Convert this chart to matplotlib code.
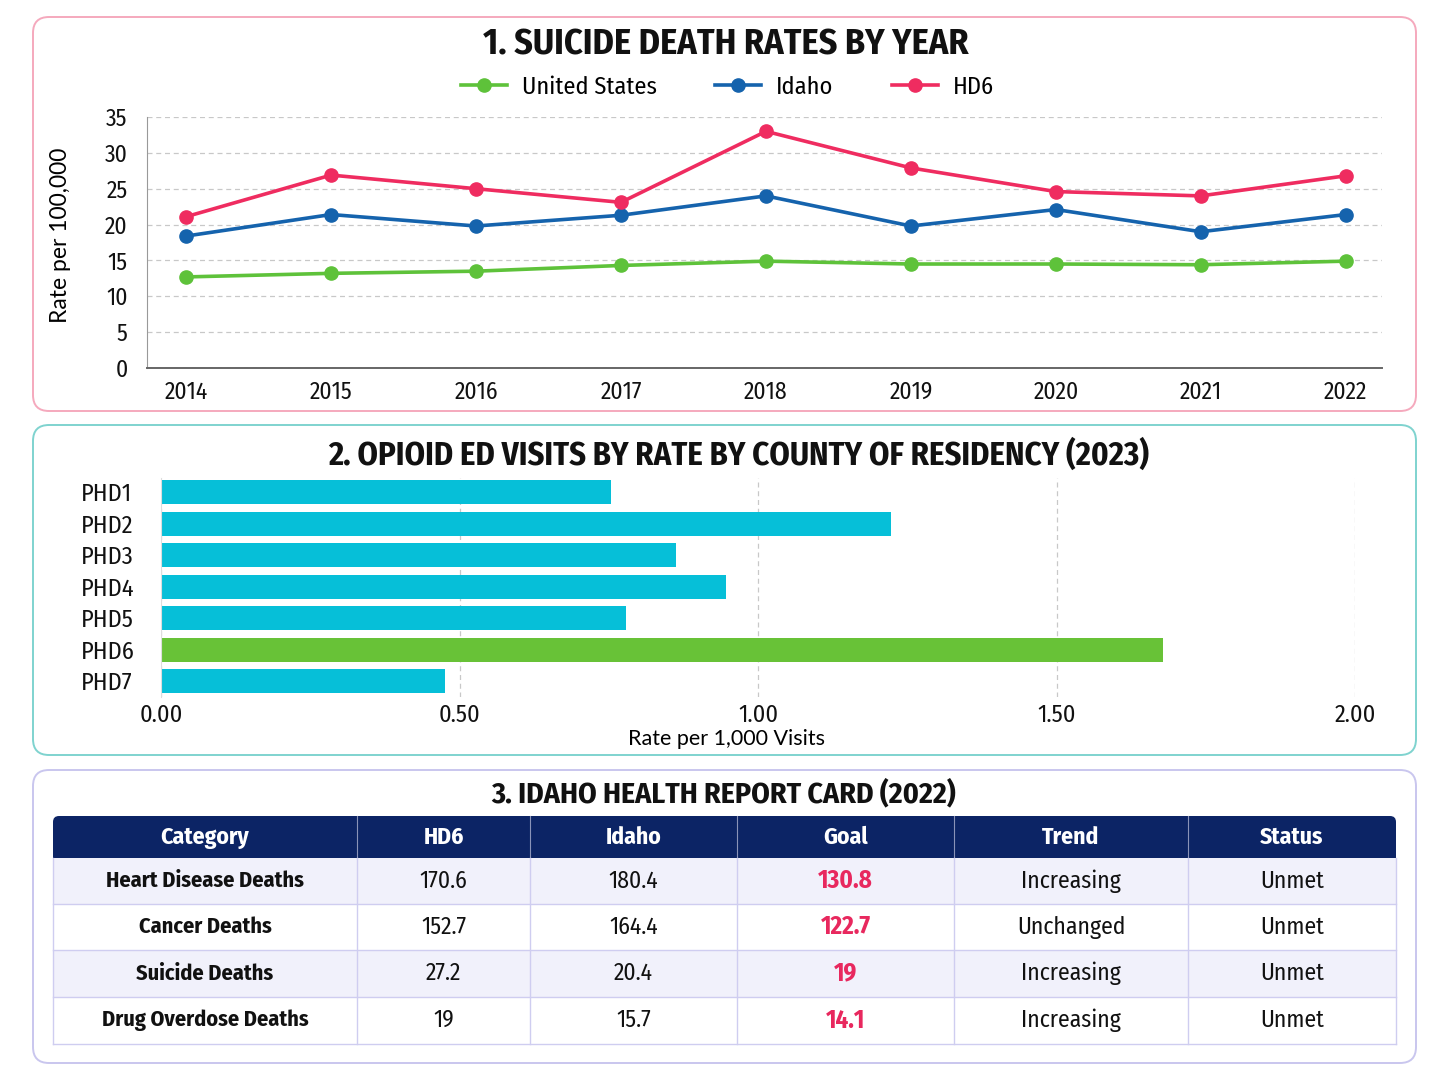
import matplotlib
matplotlib.use("Agg")
import matplotlib.pyplot as plt
from matplotlib.patches import FancyBboxPatch, Rectangle
from matplotlib import font_manager as fm
import matplotlib.transforms as mtransforms

# ---------------- data ----------------
years = ["2014", "2015", "2016", "2017", "2018", "2019", "2020", "2021", "2022"]
us_rate = [12.7, 13.2, 13.5, 14.3, 14.9, 14.5, 14.5, 14.4, 14.9]
idaho_rate = [18.4, 21.4, 19.8, 21.3, 24.0, 19.8, 22.1, 19.0, 21.4]
hd6_rate = [21.1, 26.9, 25.0, 23.1, 33.0, 27.9, 24.6, 24.0, 26.8]

districts = ["PHD1", "PHD2", "PHD3", "PHD4", "PHD5", "PHD6", "PHD7"]
opioid_rate = [0.754, 1.222, 0.863, 0.946, 0.779, 1.678, 0.476]
highlight = "PHD6"

col_headers = ["Category", "HD6", "Idaho", "Goal", "Trend", "Status"]
categories = ["Heart Disease Deaths", "Cancer Deaths", "Suicide Deaths", "Drug Overdose Deaths"]
hd6_vals = ["170.6", "152.7", "27.2", "19"]
idaho_vals = ["180.4", "164.4", "20.4", "15.7"]
goal_vals = ["130.8", "122.7", "19", "14.1"]
trend_vals = ["Increasing", "Unchanged", "Increasing", "Increasing"]
status_vals = ["Unmet", "Unmet", "Unmet", "Unmet"]

# ---------------- fonts ----------------
names = {f.name for f in fm.fontManager.ttflist}
def pick(cands, default="DejaVu Sans"):
    for c in cands:
        if c in names:
            return c
    return default
body = pick(["Lato", "Noto Sans"])
cond = pick(["Fira Sans Condensed", "Roboto Condensed", "Open Sans Condensed",
             "IBM Plex Sans Condensed", "Barlow Semi Condensed", "Oswald"], body)
semi = pick(["Fira Sans Condensed", "Roboto Condensed", "IBM Plex Sans Condensed",
             "Open Sans Condensed"], body)
plt.rcParams["font.family"] = [body, "DejaVu Sans"]
CF = [cond, "DejaVu Sans"]
SF = [semi, "DejaVu Sans"]

PINK = "#ef2c60"
BLUE = "#1563ad"
GREEN = "#5ec23a"
CYAN = "#06bfd8"
BARGREEN = "#68c237"
NAVY = "#0c2465"

W, H = 1448, 1086
fig = plt.figure(figsize=(W / 100, H / 100), dpi=100)
fig.patch.set_facecolor("white")

bg = fig.add_axes([0, 0, 1, 1])
bg.set_xlim(0, W)
bg.set_ylim(H, 0)
bg.axis("off")
bg.set_zorder(-1)

def panel(y0, y1, ec):
    p = FancyBboxPatch((33, y0), 1383, y1 - y0,
                       boxstyle="round,pad=0,rounding_size=16",
                       fc="white", ec=ec, lw=1.4)
    bg.add_patch(p)

panel(17, 411, "#f5a9bd")
panel(425, 755, "#7fd3cf")
panel(770, 1063, "#c9c6ee")

title_kw = dict(family=CF, weight="bold", ha="center", va="center", color="#111111")
bg.text(726, 45, "1. SUICIDE DEATH RATES BY YEAR", fontsize=26, **title_kw)
bg.text(739, 455, "2. OPIOID ED VISITS BY RATE BY COUNTY OF RESIDENCY (2023)", fontsize=23.5, **title_kw)
bg.text(724, 794, "3. IDAHO HEALTH REPORT CARD (2022)", fontsize=21.5, **title_kw)

# ---------------- chart 1 ----------------
ax1 = fig.add_axes([147 / W, 1 - 368 / H, 1235 / W, 251 / H])
x = list(range(len(years)))
ax1.plot(x, us_rate, color=GREEN, lw=2.6, marker="o", ms=9.5, label="United States", zorder=3)
ax1.plot(x, idaho_rate, color=BLUE, lw=2.6, marker="o", ms=9.5, label="Idaho", zorder=3)
ax1.plot(x, hd6_rate, color=PINK, lw=2.6, marker="o", ms=9.5, label="HD6", zorder=3)
ax1.set_ylim(0, 35)
ax1.set_yticks(range(0, 36, 5))
ax1.set_xlim(-0.27, 8.25)
ax1.set_xticks(x)
ax1.set_xticklabels(years)
ax1.grid(axis="y", ls=(0, (4, 3)), color="#c8c8c8", lw=0.9)
ax1.set_axisbelow(True)
for s in ["top", "right"]:
    ax1.spines[s].set_visible(False)
ax1.spines["left"].set_color("#999999")
ax1.spines["bottom"].set_color("#666666")
ax1.spines["bottom"].set_linewidth(1.4)
ax1.tick_params(axis="both", length=0, labelsize=17, colors="#111111")
ax1.tick_params(axis="x", pad=9)
ax1.tick_params(axis="y", pad=14)
for lab in ax1.get_xticklabels() + ax1.get_yticklabels():
    lab.set_family(SF)
ax1.set_ylabel("Rate per 100,000", fontsize=16.5)
ax1.yaxis.set_label_coords(-76 / 1235, 0.53)
leg = ax1.legend(loc="center", bbox_to_anchor=(0.47, 1.12), ncol=3, frameon=False,
                 handlelength=1.9, columnspacing=2.4, handletextpad=0.6,
                 prop={"family": SF, "size": 17.5})

# ---------------- chart 2 ----------------
ax2 = fig.add_axes([161 / W, 1 - 697 / H, 1194 / W, 219 / H])
colors = [BARGREEN if d == highlight else CYAN for d in districts]
ax2.barh(range(len(districts)), opioid_rate, height=0.76, color=colors, zorder=2)
ax2.set_yticks(range(len(districts)))
ax2.set_yticklabels(districts)
ax2.set_ylim(6.5, -0.45)
ax2.set_xlim(0, 2.0)
ax2.set_xticks([0, 0.5, 1.0, 1.5, 2.0])
ax2.set_xticklabels(["0.00", "0.50", "1.00", "1.50", "2.00"])
ax2.grid(axis="x", ls=(0, (4, 3)), color="#c8c8c8", lw=0.9)
ax2.set_axisbelow(True)
for s in ["top", "right", "bottom"]:
    ax2.spines[s].set_visible(False)
ax2.spines["left"].set_color("#dddddd")
ax2.tick_params(axis="both", length=0, labelsize=17.5, colors="#111111")
ax2.tick_params(axis="y", pad=0)
ax2.tick_params(axis="x", pad=5)
offset = mtransforms.ScaledTranslation(-80 / 100, 0, fig.dpi_scale_trans)
for lab in ax2.get_yticklabels():
    lab.set_horizontalalignment("left")
    lab.set_transform(lab.get_transform() + offset)
for lab in ax2.get_xticklabels() + ax2.get_yticklabels():
    lab.set_family(SF)
ax2.set_xlabel("Rate per 1,000 Visits", fontsize=15.5, labelpad=2)
ax2.xaxis.set_label_coords(565 / 1194, -0.145)

# ---------------- table ----------------
col_x = [53, 357, 530, 737, 954, 1188, 1396]
head_y0, head_y1 = 816, 858
row_edges = [858, 904, 950, 997, 1044]
grid_c = "#cfcdf0"

hdr = FancyBboxPatch((col_x[0], head_y0), col_x[-1] - col_x[0], head_y1 - head_y0,
                     boxstyle="round,pad=0,rounding_size=6", fc=NAVY, ec="none")
bg.add_patch(hdr)
bg.add_patch(Rectangle((col_x[0], head_y0 + 10), col_x[-1] - col_x[0], head_y1 - head_y0 - 10, fc=NAVY, ec="none"))
for i, h in enumerate(col_headers):
    cx = (col_x[i] + col_x[i + 1]) / 2
    bg.text(cx, (head_y0 + head_y1) / 2, h, color="white", fontsize=17, weight="bold",
            ha="center", va="center", family=SF)
for xx in col_x[1:-1]:
    bg.plot([xx, xx], [head_y0, head_y1], color="#8a93b8", lw=0.8)

rows = list(zip(categories, hd6_vals, idaho_vals, goal_vals, trend_vals, status_vals))
for r, row in enumerate(rows):
    y0, y1 = row_edges[r], row_edges[r + 1]
    fc = "#f1f1fb" if r % 2 == 0 else "white"
    bg.add_patch(Rectangle((col_x[0], y0), col_x[-1] - col_x[0], y1 - y0, fc=fc, ec="none"))
    cy = (y0 + y1) / 2
    for c, val in enumerate(row):
        cx = (col_x[c] + col_x[c + 1]) / 2
        if c == 0:
            bg.text(cx, cy, val, fontsize=16, weight="bold", ha="center", va="center",
                    color="#111111", family=SF)
        elif c == 3:
            bg.text(cx, cy, val, fontsize=18, weight="bold", ha="center", va="center",
                    color="#e8285e", family=SF)
        else:
            bg.text(cx, cy, val, fontsize=17, ha="center", va="center", color="#111111",
                    family=SF)
for ye in row_edges[1:-1]:
    bg.plot([col_x[0], col_x[-1]], [ye, ye], color=grid_c, lw=1)
bg.plot([col_x[0], col_x[-1]], [row_edges[-1], row_edges[-1]], color=grid_c, lw=1)
for xx in col_x:
    bg.plot([xx, xx], [head_y1, row_edges[-1]], color=grid_c, lw=1)

fig.savefig("out.png", dpi=100, facecolor="white")
